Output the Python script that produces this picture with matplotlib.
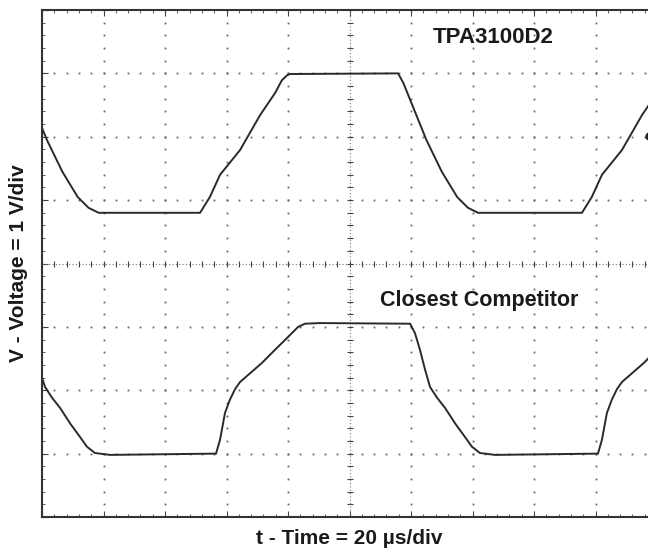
import numpy as np
import matplotlib.pyplot as plt

plt.rcParams['font.family'] = ['Liberation Sans', 'DejaVu Sans']

# scope traces, time in us (20 us/div), voltage in V (1 V/div)
tpa_t = [0, 1.6, 6.6, 11.6, 15.1, 18.4, 51.4, 54.6, 57.9, 64.4, 70.9, 75.8,
         78.0, 79.7, 80.7, 115.8, 117.5, 120.0, 125.0, 130.0, 135.0, 138.5,
         141.8, 175.6, 178.8, 182.1, 188.6, 195.1, 200.0]
tpa_v = [2.14, 1.95, 1.45, 1.05, 0.88, 0.80, 0.80, 1.05, 1.40, 1.79, 2.34, 2.69,
         2.89, 2.97, 2.99, 3.00, 2.85, 2.55, 1.95, 1.45, 1.05, 0.88,
         0.80, 0.80, 1.05, 1.40, 1.79, 2.34, 2.69]

comp_t = [0, 1.0, 3.3, 5.9, 9.1, 12.4, 14.6, 17.2, 22.1, 56.6, 57.9, 59.5,
          61.1, 62.8, 64.4, 67.0, 71.5, 75.8, 80.0, 83.3, 85.5, 90.4, 119.7,
          121.3, 122.9, 124.6, 126.2, 128.5, 131.1, 134.3, 137.6, 139.8, 142.4,
          147.3, 180.8, 182.1, 183.7, 185.3, 187.0, 188.6, 191.2, 195.7, 200.0]
comp_v = [-1.80, -1.95, -2.12, -2.28, -2.52, -2.74, -2.89, -2.99, -3.02, -3.00,
          -2.78, -2.36, -2.15, -1.98, -1.87, -1.76, -1.57, -1.36, -1.16, -1.00,
          -0.95, -0.94, -0.95, -1.10, -1.36, -1.68, -1.95, -2.12, -2.28, -2.52,
          -2.74, -2.89, -2.99, -3.02, -3.00, -2.78, -2.36, -2.15, -1.98, -1.87,
          -1.76, -1.57, -1.36]

trace_names = ['TPA3100D2', 'Closest Competitor']
x_label = 't - Time = 20 \u00b5s/div'
y_label = 'V - Voltage = 1 V/div'

t_div = 20
v_div = 1

fig = plt.figure(figsize=(6.48, 5.52), dpi=100)
ax = fig.add_axes([42 / 648, 35 / 552, 615 / 648, 507 / 552])
ax.set_xlim(0, 10 * t_div)
ax.set_ylim(-4 * v_div, 4 * v_div)

# dotted graticule
gx = np.arange(0, 200.1, 4)
gy = np.arange(-4, 4.01, 0.2)
for k in range(1, 10):
    if k == 5:
        continue
    ax.plot(np.full(gy.size, k * t_div), gy, ls='none', marker='s', ms=1.3,
            mew=0, color='#666666')
for k in range(-3, 4):
    if k == 0:
        continue
    ax.plot(gx, np.full(gx.size, k * v_div), ls='none', marker='s', ms=1.3,
            mew=0, color='#666666')

# centre cross with fine ticks
ax.axhline(0, ls=(0, (1, 2)), lw=0.8, color='#777777')
ax.axvline(100, ls=(0, (1, 2)), lw=0.8, color='#777777')
ax.plot(gx, np.zeros(gx.size), ls='none', marker='|', ms=5, mew=0.8, color='#444444')
ax.plot(np.full(gy.size, 100), gy, ls='none', marker='_', ms=5, mew=0.8, color='#444444')

# traces
ax.plot(tpa_t, tpa_v, color='#2a2a2a', lw=1.4)
ax.plot(comp_t, comp_v, color='#2a2a2a', lw=1.4)
ax.plot([197.5], [2.01], ls='none', marker='o', ms=5, color='#222222')

ax.text(127.2, 3.56, trace_names[0], fontsize=16, fontweight='bold',
        ha='left', va='center', color='#1a1a1a')
ax.text(110, -0.58, trace_names[1], fontsize=15.5, fontweight='bold',
        ha='left', va='center', color='#1a1a1a')

ax.set_xticks(np.arange(0, 201, 20))
ax.set_yticks(np.arange(-4, 4.1, 1))
ax.set_xticks(gx, minor=True)
ax.set_yticks(gy, minor=True)
ax.tick_params(which='both', direction='in', top=True, right=True,
               labelbottom=False, labelleft=False, color='#444444')
ax.tick_params(which='major', length=4, width=0.8)
ax.tick_params(which='minor', length=2.5, width=0.6)
for s in ax.spines.values():
    s.set_linewidth(1.5)
    s.set_color('#333333')

ax.set_xlabel(x_label, fontsize=15, fontweight='bold', labelpad=9, color='#1a1a1a')
ax.set_ylabel(y_label, fontsize=15, fontweight='bold', labelpad=10, color='#1a1a1a')

fig.savefig('out.png', dpi=100)
